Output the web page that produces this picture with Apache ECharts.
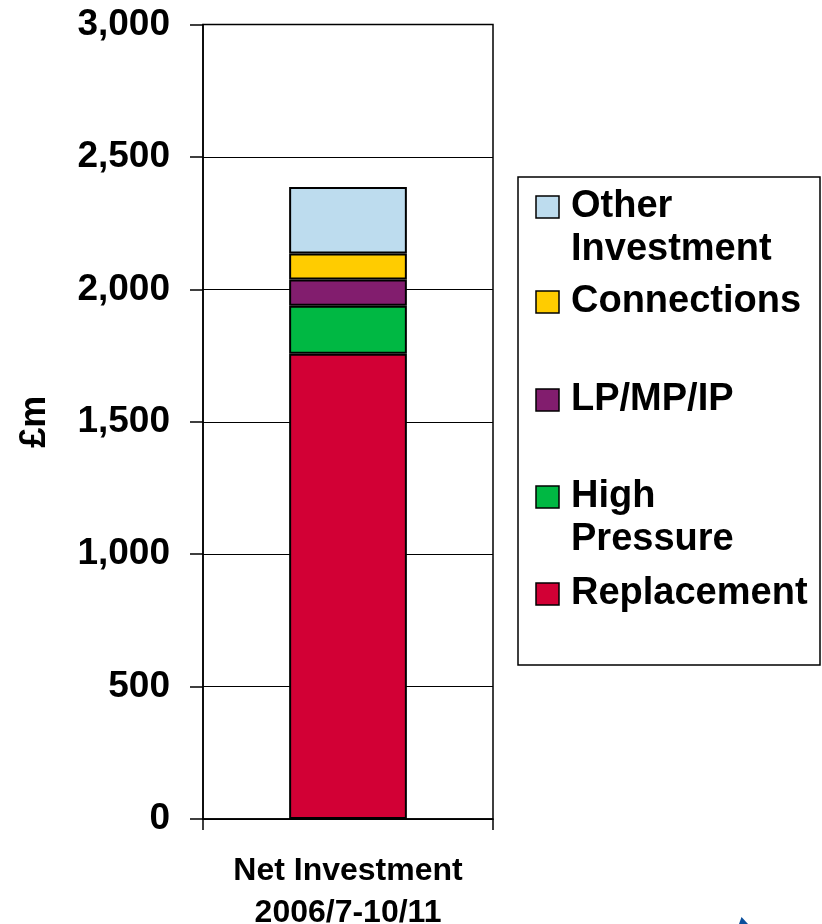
<!DOCTYPE html>
<html>
<head>
<meta charset="utf-8">
<script src="https://cdn.jsdelivr.net/npm/echarts@6/dist/echarts.min.js"></script>
<style>
html,body{margin:0;padding:0;background:#fff;}
#chart{width:822px;height:924px;}
</style>
</head>
<body>
<div id="chart"></div>
<script>
const categories = ['Net Investment\n2006/7-10/11'];
const seriesNames = ['Replacement', 'High Pressure', 'LP/MP/IP', 'Connections', 'Other Investment'];
const replacement = [1757];
const highPressure = [181];
const lpMpIp = [99];
const connections = [98];
const otherInvestment = [251];
const yTicks = [0, 500, 1000, 1500, 2000, 2500, 3000];
const colors = ['#D20035', '#00B843', '#821D6E', '#FFCC00', '#BDDCEE'];
const legendLabels = ['Other\nInvestment', 'Connections', 'LP/MP/IP', 'High\nPressure', 'Replacement'];

const FONT = "'Liberation Sans', Arial, sans-serif";
const values = [replacement, highPressure, lpMpIp, connections, otherInvestment];

const chart = echarts.init(document.getElementById('chart'), null, {renderer: 'canvas'});

const series = seriesNames.map((name, i) => ({
  name: name,
  type: 'bar',
  stack: 'total',
  data: values[i],
  barWidth: '40.6%',
  itemStyle: {color: colors[i], borderColor: '#000', borderWidth: 2},
  emphasis: {disabled: true}
}));

// legend (drawn as graphics, top item = Other Investment)
const legendCenters = [207, 302, 400, 497, 594];
const legendColorIdx = [4, 3, 2, 1, 0];
const graphics = [{
  type: 'rect',
  shape: {x: 518, y: 177, width: 302, height: 488},
  style: {fill: '#fff', stroke: '#000', lineWidth: 1.5}
}];
legendLabels.forEach((lab, k) => {
  const cy = legendCenters[k];
  graphics.push({
    type: 'rect',
    shape: {x: 536, y: cy - 11, width: 23, height: 22},
    style: {fill: colors[legendColorIdx[k]], stroke: '#000', lineWidth: 1.5}
  });
  graphics.push({
    type: 'text',
    style: {
      text: lab, x: 571, y: cy - 21.5,
      verticalAlign: 'top', align: 'left',
      lineHeight: 43,
      font: 'bold 38px ' + FONT,
      fill: '#000'
    }
  });
});
graphics.push({
  type: 'polygon',
  shape: {points: [[739, 924], [741.5, 917], [748, 924]]},
  style: {fill: '#0B4F9C'}
});

chart.setOption({
  animation: false,
  backgroundColor: '#fff',
  grid: {left: 203, right: 329, top: 24.5, bottom: 105, outerBoundsMode: 'none', containLabel: false,
         show: true, borderColor: '#000', borderWidth: 1.5, backgroundColor: 'transparent'},
  xAxis: {
    type: 'category',
    data: categories,
    axisLine: {show: true, lineStyle: {color: '#000', width: 1.5}},
    axisTick: {show: true, alignWithLabel: false, length: 11, lineStyle: {color: '#000', width: 1.5}},
    axisLabel: {
      margin: 31, color: '#000', fontFamily: FONT, fontWeight: 'bold', fontSize: 32, lineHeight: 42
    }
  },
  yAxis: {
    type: 'value',
    min: 0, max: 3000, interval: 500,
    name: '£m',
    nameLocation: 'middle',
    nameGap: 150,
    nameTextStyle: {color: '#000', fontFamily: FONT, fontWeight: 'bold', fontSize: 36},
    axisLine: {show: true, lineStyle: {color: '#000', width: 1.5}},
    axisTick: {show: true, inside: false, length: 13, lineStyle: {color: '#000', width: 1.5}},
    splitLine: {show: true, lineStyle: {color: '#000', width: 1.2}},
    axisLabel: {
      margin: 33, color: '#000', fontFamily: FONT, fontWeight: 'bold', fontSize: 37,
      formatter: v => (yTicks.indexOf(v) >= 0 ? v.toLocaleString('en-US') : '')
    }
  },
  series: series,
  graphic: graphics
});
</script>
</body>
</html>
